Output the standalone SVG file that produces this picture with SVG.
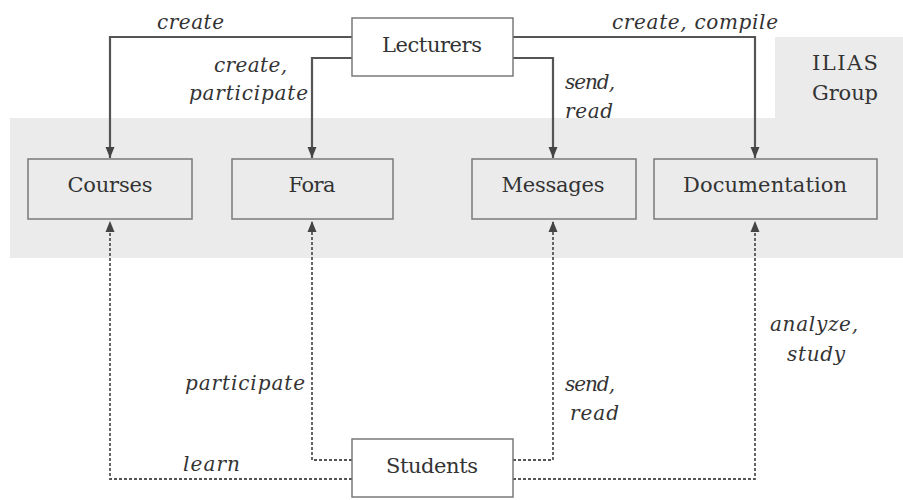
<svg xmlns="http://www.w3.org/2000/svg" width="903" height="500" viewBox="0 0 903 500">
<defs>
<marker id="ah" markerUnits="userSpaceOnUse" markerWidth="12" markerHeight="12" viewBox="0 0 12 12" refX="11" refY="6" orient="auto">
<path d="M0,1.5 L11,6 L0,10.5 Z" fill="#444"/>
</marker>
<style>
text{font-family:"DejaVu Serif","Liberation Serif",serif}
.band{fill:#ebebeb}
.box{fill:none;stroke:#7a7a7a;stroke-width:1.5}
.wbox{fill:#fff;stroke:#7a7a7a;stroke-width:1.5}
.lbl{font-size:21px;fill:#333;text-anchor:middle}
.it{font-style:italic;font-size:20px;fill:#333}
.solid{fill:none;stroke:#555;stroke-width:2.2;marker-end:url(#ah)}
.dash{fill:none;stroke:#555;stroke-width:1.8;stroke-dasharray:3 2;marker-end:url(#ah)}
</style>
</defs>
<g id="ilias-group">
<rect class="band" x="10" y="118" width="893" height="140"/>
<rect class="band" x="775" y="37" width="128" height="82"/>
<text class="lbl" x="845" y="70" textLength="66">ILIAS</text>
<text class="lbl" x="845" y="100" textLength="66">Group</text>
</g>
<g id="connectors">
<path class="solid" d="M352,37 H110 V158"/>
<path class="solid" d="M352,58 H312 V158"/>
<path class="solid" d="M513,58 H553 V158"/>
<path class="solid" d="M513,37 H755 V158"/>
<path class="dash" d="M352,479 H110 V221"/>
<path class="dash" d="M352,460 H312 V221"/>
<path class="dash" d="M513,460 H553 V221"/>
<path class="dash" d="M513,479 H755 V221"/>
<text class="it" x="157" y="29" textLength="67">create</text>
<text class="it" x="214" y="72" textLength="73">create,</text>
<text class="it" x="189" y="100" textLength="119">participate</text>
<text class="it" x="612" y="29" textLength="166">create, compile</text>
<text class="it" x="565" y="89" textLength="50">send,</text>
<text class="it" x="565" y="118" textLength="48">read</text>
<text class="it" x="185" y="390" textLength="120">participate</text>
<text class="it" x="183" y="471" textLength="57">learn</text>
<text class="it" x="565" y="391" textLength="50">send,</text>
<text class="it" x="570" y="420" textLength="49">read</text>
<text class="it" x="770" y="331" textLength="88">analyze,</text>
<text class="it" x="787" y="361" textLength="58">study</text>
</g>
<g id="lecturers">
<rect class="wbox" x="352" y="18" width="161" height="58"/>
<text class="lbl" x="432" y="52" textLength="100">Lecturers</text>
</g>
<g id="courses">
<rect class="box" x="28" y="159" width="164" height="60"/>
<text class="lbl" x="110" y="192" textLength="85">Courses</text>
</g>
<g id="fora">
<rect class="box" x="232" y="159" width="161" height="60"/>
<text class="lbl" x="312" y="192" textLength="47">Fora</text>
</g>
<g id="messages">
<rect class="box" x="472" y="159" width="164" height="60"/>
<text class="lbl" x="553" y="192" textLength="103">Messages</text>
</g>
<g id="documentation">
<rect class="box" x="654" y="159" width="223" height="60"/>
<text class="lbl" x="765" y="192" textLength="164">Documentation</text>
</g>
<g id="students">
<rect class="wbox" x="352" y="439" width="161" height="58"/>
<text class="lbl" x="432" y="473" textLength="92">Students</text>
</g>
</svg>
